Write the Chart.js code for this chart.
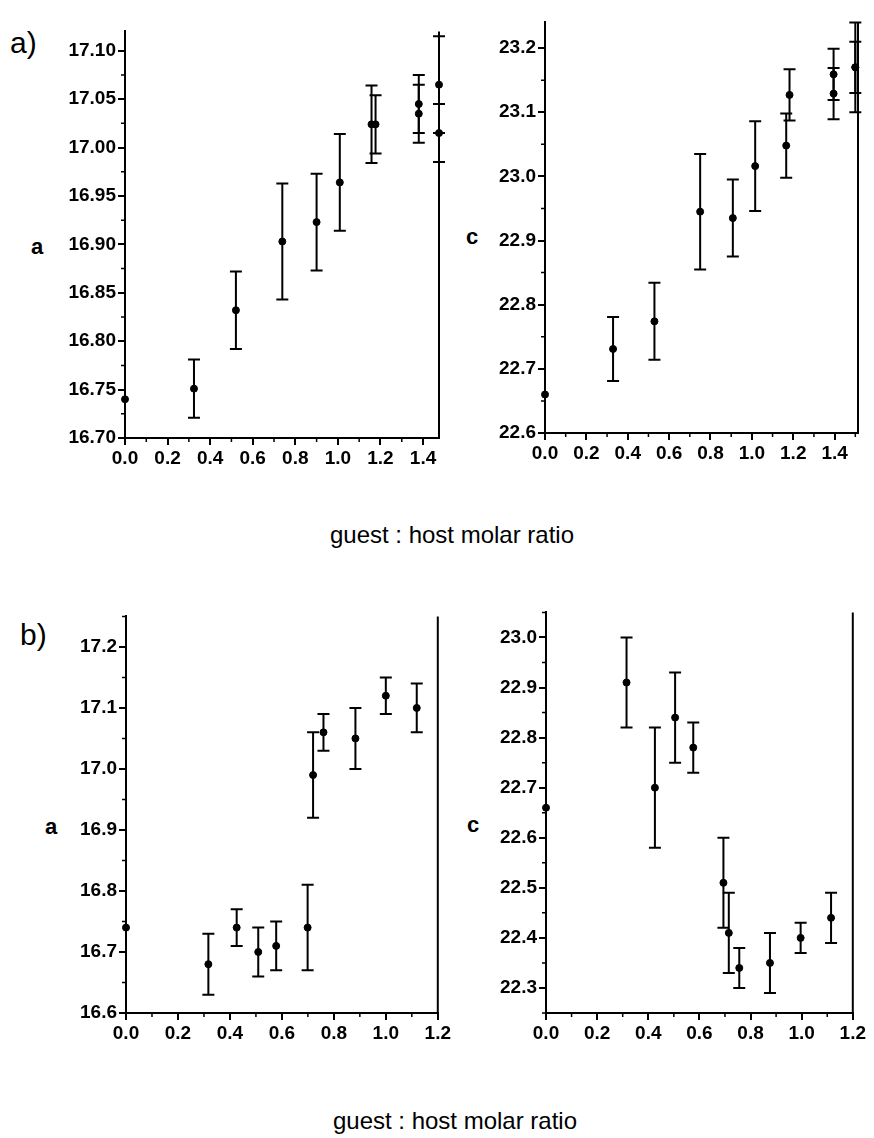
<!DOCTYPE html>
<html>
<head>
<meta charset="utf-8">
<script src="https://cdn.jsdelivr.net/npm/chart.js@4/dist/chart.umd.min.js"></script>
<style>
  body { margin: 0; background: #fff; }
  #wrap { position: relative; width: 874px; height: 1138px; background: #fff; font-family: "Liberation Sans", Arial, sans-serif; color: #000; }
  #wrap canvas { position: absolute; }
  .lbl { position: absolute; white-space: nowrap; }
  .panel { font-size: 30px; }
  .axis { font-size: 22px; font-weight: bold; }
  .xtitle { font-size: 24px; width: 874px; text-align: center; left: 0; box-sizing: border-box; }
</style>
</head>
<body>
<div id="wrap">
  <div class="lbl panel" style="left:10px; top:26px;">a)</div>
  <div class="lbl panel" style="left:20px; top:618px;">b)</div>
  <div class="lbl axis" style="left:31px; top:234px;">a</div>
  <div class="lbl axis" style="left:466px; top:224px;">c</div>
  <div class="lbl axis" style="left:45px; top:814px;">a</div>
  <div class="lbl axis" style="left:467px; top:812px;">c</div>
  <div class="lbl xtitle" style="top:521px; padding-left:30px;">guest : host molar ratio</div>
  <div class="lbl xtitle" style="top:1107px; padding-left:36px;">guest : host molar ratio</div>

  <canvas id="chartA1" style="left:35px; top:18px; width:414px; height:460px;" width="414" height="460"></canvas>
  <canvas id="chartC1" style="left:455px; top:9px; width:413px; height:464px;" width="413" height="464"></canvas>
  <canvas id="chartA2" style="left:36px; top:603px; width:417px; height:450px;" width="417" height="450"></canvas>
  <canvas id="chartC2" style="left:456px; top:599px; width:412px; height:454px;" width="412" height="454"></canvas>
</div>

<script>
// a) 上段：格子定数 a
const a1Ratio = [0, 0.324, 0.521, 0.739, 0.900, 1.009, 1.158, 1.177, 1.380, 1.380, 1.475, 1.475];
const a1Value = [16.740, 16.751, 16.832, 16.903, 16.923, 16.964, 17.024, 17.024, 17.045, 17.035, 17.065, 17.015];
const a1Error = [0, 0.03, 0.04, 0.06, 0.05, 0.05, 0.04, 0.03, 0.03, 0.03, 0.05, 0.03];

// a) 上段：格子定数 c
const c1Ratio = [0, 0.329, 0.529, 0.750, 0.908, 1.016, 1.166, 1.182, 1.395, 1.395, 1.500, 1.500];
const c1Value = [22.660, 22.731, 22.774, 22.945, 22.935, 23.016, 23.048, 23.127, 23.159, 23.129, 23.170, 23.170];
const c1Error = [0, 0.05, 0.06, 0.09, 0.06, 0.07, 0.05, 0.04, 0.04, 0.04, 0.07, 0.04];

// b) 下段：格子定数 a
const a2Ratio = [0, 0.317, 0.426, 0.509, 0.578, 0.699, 0.720, 0.760, 0.883, 1.000, 1.119];
const a2Value = [16.74, 16.68, 16.74, 16.70, 16.71, 16.74, 16.99, 17.06, 17.05, 17.12, 17.10];
const a2Error = [0, 0.05, 0.03, 0.04, 0.04, 0.07, 0.07, 0.03, 0.05, 0.03, 0.04];

// b) 下段：格子定数 c
const c2Ratio = [0, 0.315, 0.426, 0.505, 0.576, 0.694, 0.715, 0.756, 0.876, 0.996, 1.115];
const c2Value = [22.66, 22.91, 22.70, 22.84, 22.78, 22.51, 22.41, 22.34, 22.35, 22.40, 22.44];
const c2Error = [0, 0.09, 0.12, 0.09, 0.05, 0.09, 0.08, 0.04, 0.06, 0.03, 0.05];

// 目盛り
const xTicksTop = [0, 0.2, 0.4, 0.6, 0.8, 1.0, 1.2, 1.4];
const xTicksBottom = [0, 0.2, 0.4, 0.6, 0.8, 1.0, 1.2];
const yTicksA1 = [16.70, 16.75, 16.80, 16.85, 16.90, 16.95, 17.00, 17.05, 17.10];
const yTicksC1 = [22.6, 22.7, 22.8, 22.9, 23.0, 23.1, 23.2];
const yTicksA2 = [16.6, 16.7, 16.8, 16.9, 17.0, 17.1, 17.2];
const yTicksC2 = [22.3, 22.4, 22.5, 22.6, 22.7, 22.8, 22.9, 23.0];

const FONT = '"Liberation Sans", Arial, sans-serif';

// エラーバー描画（スケール経由で座標計算）
const errorBarPlugin = {
  id: 'errorBars',
  beforeDatasetsDraw(chart) {
    const ctx = chart.ctx;
    const xs = chart.scales.x;
    const ys = chart.scales.y;
    const ds = chart.data.datasets[0];
    ctx.save();
    ctx.strokeStyle = '#000';
    ctx.lineWidth = 2;
    ds.data.forEach((p, i) => {
      const e = ds.errors[i];
      if (!e) return;
      const px = xs.getPixelForValue(p.x);
      const top = ys.getPixelForValue(p.y + e);
      const bot = ys.getPixelForValue(p.y - e);
      ctx.beginPath();
      ctx.moveTo(px, top);
      ctx.lineTo(px, bot);
      ctx.moveTo(px - 6, top);
      ctx.lineTo(px + 6, top);
      ctx.moveTo(px - 6, bot);
      ctx.lineTo(px + 6, bot);
      ctx.stroke();
    });
    ctx.restore();
  }
};

// 副目盛りと右側の枠線
const framePlugin = {
  id: 'frameMinor',
  afterDraw(chart) {
    const ctx = chart.ctx;
    const area = chart.chartArea;
    const xs = chart.scales.x;
    const ys = chart.scales.y;
    ctx.save();
    ctx.strokeStyle = '#000';
    ctx.lineWidth = 2;
    ctx.beginPath();
    ctx.moveTo(area.right, area.top);
    ctx.lineTo(area.right, area.bottom + 1);
    ctx.stroke();

    ctx.lineWidth = 1.5;
    const minorVals = (scale) => {
      const t = scale.ticks.map(k => k.value);
      const out = [];
      const step = t[1] - t[0];
      for (let i = 0; i < t.length; i++) {
        const m = t[i] + step / 2;
        if (m <= scale.max + 1e-9) out.push(m);
      }
      if (t[0] - step / 2 >= scale.min - 1e-9) out.push(t[0] - step / 2);
      return out;
    };
    ctx.beginPath();
    minorVals(xs).forEach(v => {
      const px = xs.getPixelForValue(v);
      ctx.moveTo(px, area.bottom);
      ctx.lineTo(px, area.bottom + 4);
    });
    minorVals(ys).forEach(v => {
      const py = ys.getPixelForValue(v);
      ctx.moveTo(area.left, py);
      ctx.lineTo(area.left - 4, py);
    });
    ctx.stroke();
    ctx.restore();
  }
};

function makeChart(id, ratio, value, errors, xMax, xTicks, yMin, yMax, yTicks, yDigits) {
  const points = ratio.map((r, i) => ({ x: r, y: value[i] }));
  return new Chart(document.getElementById(id), {
    type: 'scatter',
    data: {
      datasets: [{
        data: points,
        errors: errors,
        pointRadius: 3.5,
        pointHoverRadius: 3.5,
        backgroundColor: '#000',
        borderColor: '#000',
        clip: false
      }]
    },
    options: {
      responsive: false,
      animation: false,
      events: [],
      layout: { padding: { top: 10, right: 10, left: 0, bottom: 0 } },
      plugins: { legend: { display: false }, tooltip: { enabled: false } },
      scales: {
        x: {
          type: 'linear',
          min: 0,
          max: xMax,
          afterBuildTicks: (s) => { s.ticks = xTicks.map(v => ({ value: v })); },
          afterFit: (s) => { s.height = 40; },
          border: { display: true, color: '#000', width: 2 },
          grid: { drawOnChartArea: false, drawTicks: true, tickLength: 7, color: '#000', lineWidth: 2 },
          ticks: {
            maxRotation: 0,
            autoSkip: false,
            padding: 2,
            color: '#000',
            font: { family: FONT, size: 19, weight: 'bold' },
            callback: (v) => Number(v).toFixed(1)
          }
        },
        y: {
          type: 'linear',
          min: yMin,
          max: yMax,
          afterBuildTicks: (s) => { s.ticks = yTicks.map(v => ({ value: v })); },
          afterFit: (s) => { s.width = 90; },
          border: { display: true, color: '#000', width: 2 },
          grid: { drawOnChartArea: false, drawTicks: true, tickLength: 7, color: '#000', lineWidth: 2 },
          ticks: {
            autoSkip: false,
            padding: 2,
            color: '#000',
            font: { family: FONT, size: 19, weight: 'bold' },
            callback: (v) => Number(v).toFixed(yDigits)
          }
        }
      }
    },
    plugins: [errorBarPlugin, framePlugin]
  });
}

makeChart('chartA1', a1Ratio, a1Value, a1Error, 1.475, xTicksTop, 16.70, 17.12, yTicksA1, 2);
makeChart('chartC1', c1Ratio, c1Value, c1Error, 1.513, xTicksTop, 22.60, 23.24, yTicksC1, 1);
makeChart('chartA2', a2Ratio, a2Value, a2Error, 1.2, xTicksBottom, 16.60, 17.25, yTicksA2, 1);
makeChart('chartC2', c2Ratio, c2Value, c2Error, 1.2, xTicksBottom, 22.25, 23.05, yTicksC2, 1);
</script>
</body>
</html>
